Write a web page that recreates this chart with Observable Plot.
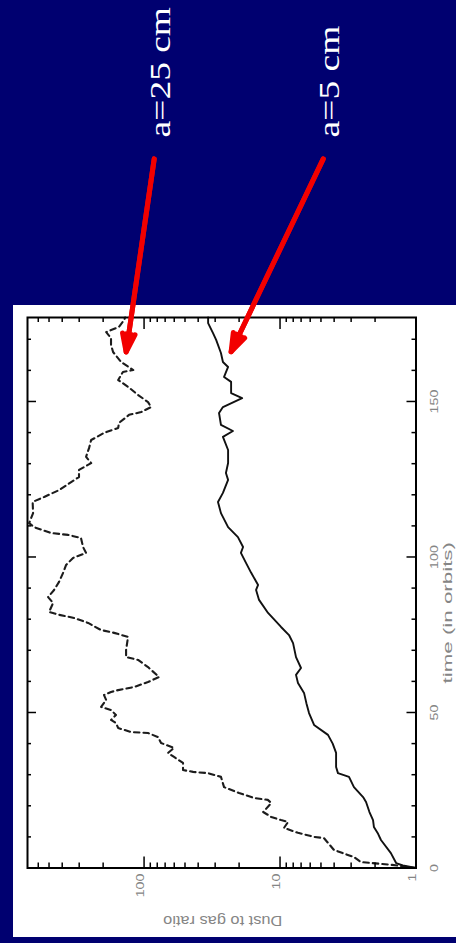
<!DOCTYPE html>
<html>
<head>
<meta charset="utf-8">
<script src="https://cdn.jsdelivr.net/npm/d3@7"></script>
<script src="https://cdn.jsdelivr.net/npm/@observablehq/plot@0.6"></script>
<style>
  html, body { margin: 0; padding: 0; }
  body { width: 456px; height: 943px; background: #000070; position: relative; overflow: hidden; }
  #panel { position: absolute; left: 13px; top: 305px; width: 443px; height: 632px; background: #ffffff; }
  #chart { position: absolute; left: 0; top: 0; }
</style>
</head>
<body>
<div id="panel"></div>
<div id="chart"></div>
<script>
// Dust-to-gas ratio versus time for two boulder sizes (a = 5 cm solid, a = 25 cm dashed)
const timeA5 = [
  0, 0.8, 1.6, 4.8, 9.0, 11.0, 13.2, 15.4, 18.0, 21.2,
  22.8, 26.0, 29.3, 30.5, 32.5, 37.0, 40.0, 42.8, 46.0, 49.8,
  53.0, 56.3, 59.5, 62.1, 64.3, 67.8, 72.3, 74.9, 77.5, 82.0,
  86.2, 89.4, 91.0, 94.9, 98.1, 101.3, 103.2, 106.4, 109.6, 114.1,
  117.7, 120.6, 124.8, 127.0, 130.2, 134.4, 138.6, 140.5, 142.5, 146.3,
  148.2, 151.1, 152.7, 156.3, 157.9, 161.1, 162.7, 165.6, 169.8, 172.0,
  175.2, 177.0
];
const ratioA5 = [
  1.0, 1.25, 1.40, 1.53, 1.81, 1.90, 2.04, 2.07, 2.20, 2.33,
  2.45, 2.86, 3.11, 3.75, 3.87, 3.87, 4.10, 4.44, 5.62, 6.12,
  6.40, 6.66, 7.38, 7.63, 7.01, 7.63, 8.02, 8.59, 9.83, 12.25,
  14.27, 15.0, 14.5, 16.3, 17.8, 19.4, 18.7, 20.4, 24.1, 27.2,
  28.6, 26.3, 24.1, 25.0, 24.1, 24.1, 26.3, 22.2, 27.2, 28.1,
  26.3, 19.0, 22.9, 22.9, 25.8, 24.1, 26.3, 27.2, 29.5, 31.1,
  33.8, 33.8
];

const timeA25 = [
  0, 1.0, 1.9, 3.5, 5.8, 9.6, 10.0, 11.3, 12.9, 14.8,
  15.4, 16.4, 18.0, 20.9, 21.9, 22.5, 24.1, 26.0, 29.3, 30.5,
  30.9, 31.5, 33.8, 35.7, 37.0, 38.6, 40.2, 42.1, 43.4, 43.7,
  45.0, 46.6, 47.6, 49.2, 50.8, 51.8, 54.0, 55.6, 56.6, 57.2,
  58.2, 59.8, 61.4, 64.6, 66.9, 67.8, 70.1, 74.3, 75.6, 76.5,
  78.8, 80.4, 81.4, 82.3, 85.2, 87.1, 89.4, 92.0, 94.9, 97.4,
  99.7, 101.3, 103.2, 106.1, 107.1, 107.7, 109.6, 110.9, 114.1, 117.7,
  119.3, 121.5, 124.1, 125.7, 128.0, 130.2, 132.2, 135.0, 137.6, 139.9,
  141.5, 143.1, 145.7, 146.6, 148.2, 149.8, 152.1, 154.7, 156.9, 159.5,
  160.1, 162.7, 165.9, 168.2, 170.4, 172.3, 174.0, 176.2, 177.0
];
const ratioA25 = [
  1.0, 1.5, 2.54, 2.86, 4.01, 4.75, 5.62, 7.38, 9.35, 8.73,
  9.83, 11.6, 13.3, 11.6, 12.3, 15.5, 20.0, 25.8, 27.2, 33.8,
  43.6, 51.7, 51.7, 60.2, 66.6, 60.2, 75.0, 78.9, 93.5, 124.6,
  155, 161, 175, 161, 175, 207, 190, 197, 175, 155,
  118.5, 93.5, 77.6, 93.5, 110.7, 135.6, 135.6, 131.2, 166, 207,
  258, 327, 422, 500, 467, 508, 459, 422, 394, 375,
  333, 267, 281, 291, 362, 483, 644, 700, 655, 660,
  543, 422, 344, 301, 301, 245, 267, 254, 245, 197,
  155, 153, 129, 105, 88.8, 93.5, 110.7, 131, 155, 143,
  120, 147.6, 169, 175, 175, 190, 153, 140, 138
];

// Axis ticks and titles
const ratioMajorTicks = [1, 10, 100];
const ratioMinorTicks = [2, 3, 4, 5, 6, 7, 8, 9, 20, 30, 40, 50, 60, 70, 80, 90, 200, 300, 400, 500, 600];
const timeMajorTicks = [0, 50, 100, 150];
const timeMinorTicks = [10, 20, 30, 40, 60, 70, 80, 90, 110, 120, 130, 140, 160, 170];
const ratioTitle = "Dust to gas ratio";
const timeTitle = "time (in orbits)";

// Size annotations: arrows from the labels to each curve
const sizeLabels = ["a=25 cm", "a=5 cm"];
const arrowFromRatio = [84.2, 4.81];
const arrowFromTime = [228.0, 228.0];
const arrowToRatio = [135.5, 22.9];
const arrowToTime = [165.9, 166.0];

const small = timeA5.map((t, i) => ({time: t, ratio: ratioA5[i]}));
const large = timeA25.map((t, i) => ({time: t, ratio: ratioA25[i]}));
const arrows = sizeLabels.map((label, i) => ({
  label, r1: arrowFromRatio[i], t1: arrowFromTime[i], r2: arrowToRatio[i], t2: arrowToTime[i]
}));

const W = 456, H = 943;
const mL = 27, mR = 40.5, mT = 317, mB = 75.5;
const frameW = W - mL - mR, frameH = H - mT - mB;
const sans = "Liberation Sans, Arial, sans-serif";
const serif = "Liberation Serif, Times New Roman, serif";
const labelGrey = "#858585";
const red = "#f20000";

const chart = Plot.plot({
  width: W,
  height: H,
  marginLeft: mL,
  marginRight: mR,
  marginTop: mT,
  marginBottom: mB,
  style: {background: "transparent", overflow: "visible"},
  x: {type: "log", domain: [1, 720], reverse: true, axis: null},
  y: {domain: [0, 177], axis: null},
  marks: [
    Plot.line(large, {x: "ratio", y: "time", stroke: "#1c1c1c", strokeWidth: 2.1, strokeDasharray: "5.5,4"}),
    Plot.line(small, {x: "ratio", y: "time", stroke: "#111", strokeWidth: 1.9}),
    Plot.frame({stroke: "#000", strokeWidth: 2}),
    // log ticks, bottom and top, pointing inward
    Plot.ruleX(ratioMinorTicks, {x: d => d, insetTop: frameH - 5, stroke: "#000", strokeWidth: 1.5}),
    Plot.ruleX(ratioMajorTicks, {x: d => d, insetTop: frameH - 11, stroke: "#000", strokeWidth: 1.5}),
    Plot.ruleX(ratioMinorTicks, {x: d => d, insetBottom: frameH - 5, stroke: "#000", strokeWidth: 1.5}),
    Plot.ruleX(ratioMajorTicks, {x: d => d, insetBottom: frameH - 12, stroke: "#000", strokeWidth: 1.5}),
    // time ticks, left and right, pointing inward
    Plot.ruleY(timeMinorTicks, {y: d => d, insetRight: frameW - 4, stroke: "#000", strokeWidth: 1.5}),
    Plot.ruleY(timeMajorTicks, {y: d => d, insetRight: frameW - 9, stroke: "#000", strokeWidth: 1.5}),
    Plot.ruleY(timeMinorTicks, {y: d => d, insetLeft: frameW - 4, stroke: "#000", strokeWidth: 1.5}),
    Plot.ruleY(timeMajorTicks, {y: d => d, insetLeft: frameW - 9, stroke: "#000", strokeWidth: 1.5}),
    // tick labels
    Plot.text(ratioMajorTicks, {
      x: d => d, text: d => String(d), frameAnchor: "bottom", dy: 5.5, rotate: -90, textAnchor: "end",
      fontSize: 11, fontFamily: sans, fill: labelGrey, ariaDescription: "ratio tick label"
    }),
    Plot.text(timeMajorTicks, {
      y: d => d, text: d => String(d), frameAnchor: "right", dx: 18.5, rotate: -90, textAnchor: "middle",
      fontSize: 11, fontFamily: sans, fill: labelGrey, ariaDescription: "time tick label"
    }),
    // axis titles
    Plot.text([ratioTitle], {
      text: d => d, frameAnchor: "bottom", dx: 1, dy: 47.5, rotate: 180, textAnchor: "middle",
      fontSize: 14, fontFamily: sans, fill: labelGrey, ariaDescription: "ratio title"
    }),
    Plot.text([timeTitle], {
      text: d => d, frameAnchor: "right", dx: 32, dy: 20, rotate: -90, textAnchor: "middle",
      fontSize: 13, fontFamily: sans, fill: labelGrey, ariaDescription: "time title"
    }),
    // red arrows (two overlaid heads give a solid arrowhead)
    Plot.arrow(arrows, {x1: "r1", y1: "t1", x2: "r2", y2: "t2", stroke: red, strokeWidth: 5, headAngle: 38, headLength: 5.8}),
    Plot.arrow(arrows, {x1: "r1", y1: "t1", x2: "r2", y2: "t2", stroke: red, strokeWidth: 5, headAngle: 18, headLength: 5.5}),
    Plot.text(arrows, {
      x: "r1", y: "t1", text: "label", dx: 6, dy: -21.5, rotate: -90, textAnchor: "start",
      fontSize: 30, fontFamily: serif, fill: "#ffffff", ariaDescription: "size label"
    })
  ]
});

document.getElementById("chart").appendChild(chart);

// Stretch rotated text along its baseline
function stretch(desc, k) {
  chart.querySelectorAll(`g[aria-description="${desc}"] text`).forEach(t => {
    const tr = t.getAttribute("transform");
    if (tr && /rotate/.test(tr)) t.setAttribute("transform", `${tr} scale(${k},1)`);
  });
}
stretch("size label", 1.25);
stretch("ratio tick label", 1.3);
stretch("time tick label", 1.3);
stretch("ratio title", 1.17);
stretch("time title", 1.72);
</script>
</body>
</html>
